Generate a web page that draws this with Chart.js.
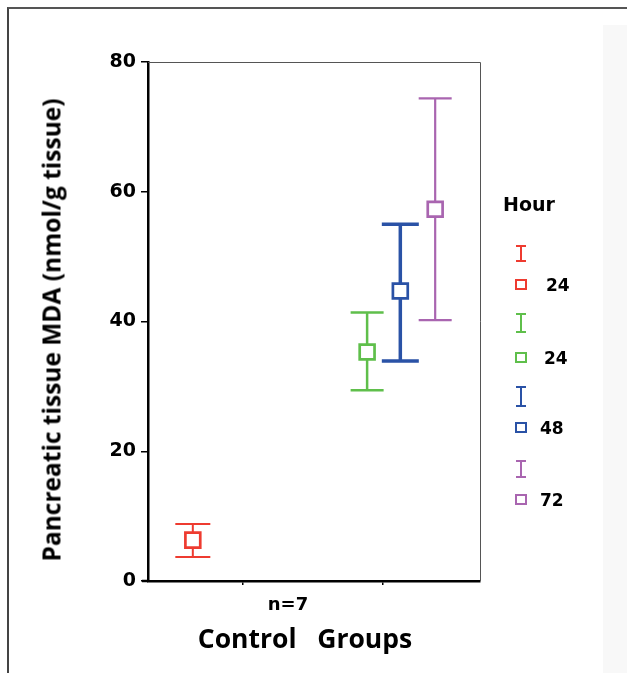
<!DOCTYPE html>
<html>
<head>
<meta charset="utf-8">
<script src="https://cdn.jsdelivr.net/npm/chart.js@4.4.1/dist/chart.umd.min.js"></script>
<style>
  body { margin: 0; background: #fff; }
  #wrap { position: relative; width: 627px; height: 673px; overflow: hidden; background: #fff; }
  #frame { position: absolute; left: 7px; top: 7px; width: 800px; height: 800px;
           border-left: 2px solid #444; border-top: 2px solid #555; }
  #side { position: absolute; left: 603px; top: 25px; width: 30px; height: 700px; background: #f8f8f8; }
  #chartBox { position: absolute; left: 0; top: 0; width: 627px; height: 673px; }
  .txt { position: absolute; font-weight: bold; color: #000; white-space: pre; }
  #ytitle { font-family: "Open Sans", sans-serif; font-size: 24.5px; left: 51px; top: 330px;
            transform: translate(-50%, -50%) rotate(-90deg); }
  #nlabel { font-family: "DejaVu Sans", sans-serif; font-size: 18px; left: 288px; top: 603px;
            transform: translate(-50%, -50%); }
  #xtitle { font-family: "Open Sans", sans-serif; font-size: 26.5px; left: 305px; top: 638px;
            transform: translate(-50%, -50%); }
  #legTitle { font-family: "DejaVu Sans", sans-serif; font-size: 19px; left: 503px; top: 204px;
              transform: translateY(-50%); }
  .ibeam { position: absolute; width: 10px; box-sizing: border-box; border-top: 2px solid; border-bottom: 2px solid; }
  .ibeam::after { content: ""; position: absolute; left: 4px; top: 0; bottom: 0; width: 2px; background: currentColor; }
  .sq { position: absolute; width: 12px; height: 11px; box-sizing: border-box; border: 2px solid; background: #fff; }
  .num { font-family: "DejaVu Sans", sans-serif; font-size: 17px; transform: translateY(-50%); }
</style>
</head>
<body>
<div id="wrap">
  <div id="side"></div>
  <div id="frame"></div>
  <div id="chartBox"><canvas id="mdaChart"></canvas></div>
  <div class="txt" id="ytitle">Pancreatic tissue MDA (nmol/g tissue)</div>
  <div class="txt" id="nlabel">n=7</div>
  <div class="txt" id="xtitle">Control   Groups</div>
  <div class="txt" id="legTitle">Hour</div>
  <div id="legend"></div>
</div>
<script>
// data
const groups = ['Control', 'Group 24h', 'Group 48h', 'Group 72h'];
const hourLabels = ['24', '24', '48', '72'];
const xPos = [1.35, 6.6, 7.6, 8.65];
const means = [6.3, 35.3, 44.7, 57.3];
const lower = [3.7, 29.4, 33.9, 40.2];
const upper = [8.8, 41.4, 55.0, 74.4];
const xTicks = [2.86, 7.08];
const yTicks = [0, 20, 40, 60, 80];

const colors = ['#ee3b30', '#5fbf4b', '#2a52a6', '#a965b0'];
const barWidths = [2, 2.5, 3.5, 2.2];
const capWidths = [35, 33, 37, 33];

// error bars, drawn under the square markers
const errorBars = {
    id: 'errorBars',
    beforeDatasetsDraw(chart) {
        const ctx = chart.ctx;
        const xs = chart.scales.x, ys = chart.scales.y;
        ctx.save();
        groups.forEach(function (g, i) {
            const x = xs.getPixelForValue(xPos[i]);
            const yl = ys.getPixelForValue(lower[i]);
            const yu = ys.getPixelForValue(upper[i]);
            const h = capWidths[i] / 2;
            ctx.strokeStyle = colors[i];
            ctx.lineWidth = barWidths[i];
            ctx.beginPath();
            ctx.moveTo(x, yl); ctx.lineTo(x, yu);
            ctx.moveTo(x - h, yl); ctx.lineTo(x + h, yl);
            ctx.moveTo(x - h, yu); ctx.lineTo(x + h, yu);
            ctx.stroke();
        });
        ctx.restore();
    },
    afterDraw(chart) {
        // thin top and right sides of the plot box, x axis runs a bit past the y axis
        const a = chart.chartArea, ctx = chart.ctx;
        ctx.save();
        ctx.strokeStyle = '#555';
        ctx.lineWidth = 1;
        ctx.beginPath();
        ctx.moveTo(a.left, a.top + 0.5); ctx.lineTo(a.right + 0.5, a.top + 0.5);
        ctx.lineTo(a.right + 0.5, a.bottom);
        ctx.stroke();
        ctx.strokeStyle = '#000';
        ctx.lineWidth = 2.5;
        ctx.beginPath();
        ctx.moveTo(a.left - 6, a.bottom); ctx.lineTo(a.left, a.bottom);
        ctx.stroke();
        ctx.restore();
    }
};

const ctx = document.getElementById('mdaChart');
new Chart(ctx, {
    type: 'scatter',
    data: {
        datasets: groups.map(function (g, i) {
            return {
                label: g,
                data: [{ x: xPos[i], y: means[i] }],
                pointStyle: 'rect',
                pointRadius: 10.5,
                pointBorderWidth: 2.7,
                borderColor: colors[i],
                backgroundColor: '#fff'
            };
        })
    },
    options: {
        responsive: true,
        maintainAspectRatio: false,
        animation: false,
        layout: { padding: { top: 62, right: 147, left: 0, bottom: 0 } },
        plugins: { legend: { display: false }, tooltip: { enabled: false } },
        scales: {
            x: {
                type: 'linear', min: 0, max: 10,
                afterBuildTicks: function (s) { s.ticks = xTicks.map(function (v) { return { value: v }; }); },
                afterFit: function (s) { s.height = 92; },
                ticks: { display: true, callback: function () { return ''; } },
                grid: { drawOnChartArea: false, drawTicks: true, tickLength: 4, color: '#000', lineWidth: 1.5 },
                border: { display: true, color: '#000', width: 2.5 }
            },
            y: {
                min: 0, max: 80,
                afterBuildTicks: function (s) { s.ticks = yTicks.map(function (v) { return { value: v }; }); },
                afterFit: function (s) { s.width = 148; },
                ticks: {
                    color: '#000', padding: 5,
                    font: { family: '"DejaVu Sans", sans-serif', size: 19, weight: 'bold' }
                },
                grid: { drawOnChartArea: false, drawTicks: true, tickLength: 7, color: '#000', lineWidth: 1.5 },
                border: { display: true, color: '#000', width: 2.5 }
            }
        }
    },
    plugins: [errorBars]
});

// legend: I-beam and square for each group
const legend = document.getElementById('legend');
const beamTop = [245, 313, 386, 460];
const beamH = [17, 20, 21, 18];
const sqMid = [285, 358, 428, 500];
const numX = [546, 544, 540, 540];
hourLabels.forEach(function (lab, i) {
    const b = document.createElement('div');
    b.className = 'ibeam';
    b.style.color = colors[i];
    b.style.borderColor = colors[i];
    b.style.left = '516px';
    b.style.top = beamTop[i] + 'px';
    b.style.height = beamH[i] + 'px';
    legend.appendChild(b);
    const s = document.createElement('div');
    s.className = 'sq';
    s.style.borderColor = colors[i];
    s.style.left = '515px';
    s.style.top = (sqMid[i] - 6) + 'px';
    legend.appendChild(s);
    const t = document.createElement('div');
    t.className = 'txt num';
    t.textContent = lab;
    t.style.left = numX[i] + 'px';
    t.style.top = sqMid[i] + 'px';
    legend.appendChild(t);
});
</script>
</body>
</html>
